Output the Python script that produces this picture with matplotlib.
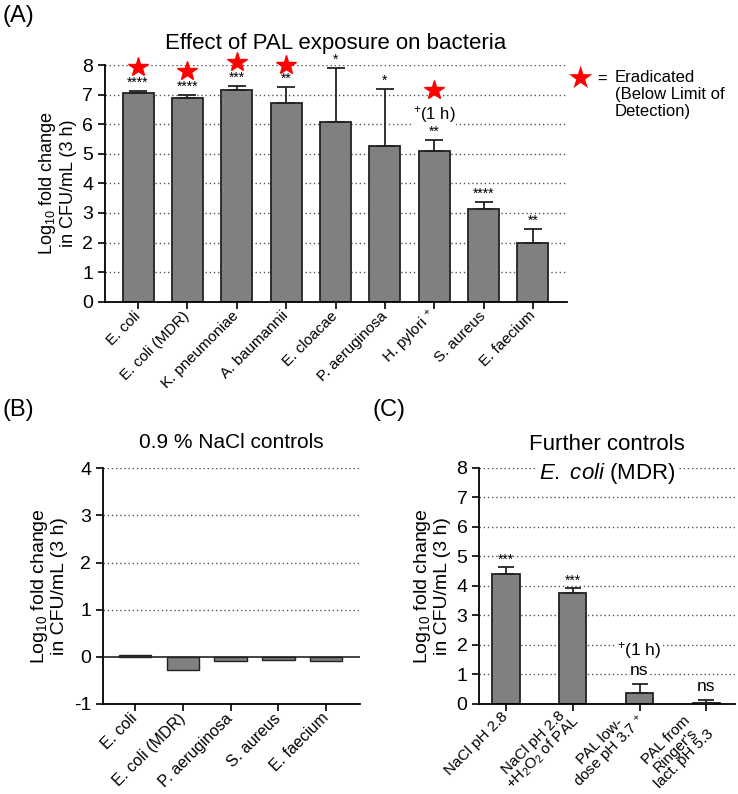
import matplotlib
matplotlib.use("Agg")
import matplotlib.pyplot as plt
import matplotlib.transforms as mtransforms
import numpy as np

plt.rcParams['font.family'] = ['Liberation Sans', 'DejaVu Sans']
plt.rcParams['mathtext.fontset'] = 'custom'
plt.rcParams['mathtext.rm'] = 'Liberation Sans'
plt.rcParams['mathtext.it'] = 'Liberation Sans:italic'
plt.rcParams['axes.unicode_minus'] = False

# ---------------- data ----------------
a_labels = ["E. coli", "E. coli (MDR)", "K. pneumoniae", "A. baumannii", "E. cloacae",
            "P. aeruginosa", "H. pylori $^{+}$", "S. aureus", "E. faecium"]
a_values = [7.04, 6.87, 7.15, 6.70, 6.08, 5.27, 5.10, 3.13, 1.97]
a_errors = [0.09, 0.12, 0.15, 0.56, 1.82, 1.92, 0.36, 0.24, 0.50]
a_signif = ["****", "****", "***", "**", "*", "*", "**", "****", "**"]
a_eradicated = [True, True, True, True, False, False, True, False, False]
a_star_y = [7.94, 7.79, 8.10, 8.00, None, None, 7.15, None, None]

b_labels = ["E. coli", "E. coli (MDR)", "P. aeruginosa", "S. aureus", "E. faecium"]
b_values = [0.04, -0.28, -0.08, -0.06, -0.08]

c_labels = ["NaCl pH 2.8", "NaCl pH 2.8\n+H$_2$O$_2$ of PAL", "PAL low-\ndose pH 3.7 $^{+}$",
            "PAL from\nRinger's\nlact. pH 5.3"]
c_values = [4.41, 3.75, 0.37, 0.04]
c_errors = [0.24, 0.19, 0.32, 0.09]
c_signif = ["***", "***", "ns", "ns"]

ylabel = "Log$_{10}$ fold change\nin CFU/mL (3 h)"

W, H = 738, 794
fig = plt.figure(figsize=(W / 100, H / 100), dpi=100)


def px_axes(l, r, t, b):
    return fig.add_axes([l / W, 1 - b / H, (r - l) / W, (b - t) / H])


BAR = "#808080"
GRID = "#555555"


def style(ax):
    for s in ("top", "right"):
        ax.spines[s].set_visible(False)
    for s in ("left", "bottom"):
        ax.spines[s].set_linewidth(1.3)
    ax.tick_params(axis="both", direction="out", length=5, width=1.2, labelsize=14)
    ax.tick_params(axis="x", pad=3.5)


# ---------------- panel A ----------------
axA = px_axes(105, 567, 65, 301.7)
style(axA)
xa = np.arange(len(a_values))
for g in range(1, 9):
    axA.axhline(g, color=GRID, ls=(0, (1, 2)), lw=1.0, zorder=0)
axA.bar(xa, a_values, width=0.63, color=BAR, edgecolor="#222222", linewidth=1.3, zorder=2)
axA.errorbar(xa, a_values, yerr=[np.zeros(len(a_errors)), a_errors], fmt="none",
             ecolor="#222222", elinewidth=1.3, capsize=6.5, capthick=1.3, zorder=3)
axA.set_xlim(-0.67, 8.69)
axA.set_ylim(0, 8)
axA.set_yticks(range(0, 9))
axA.set_xticks(xa)
axA.set_xticklabels(a_labels, rotation=45, ha="right", va="center", rotation_mode="anchor", fontsize=11)
axA.set_ylabel(ylabel, fontsize=13, linespacing=1.1)
for i, (v, e, s) in enumerate(zip(a_values, a_errors, a_signif)):
    axA.text(i, v + e + 0.04, s, ha="center", va="bottom", fontsize=10, zorder=4)
for i, (er, sy) in enumerate(zip(a_eradicated, a_star_y)):
    if er:
        axA.plot(i, sy, marker="*", color="#ff0000", ms=15, mec="#ff0000", zorder=5, clip_on=False)
axA.text(6, 6.32, "$^{+}$(1 h)", ha="center", va="center", fontsize=12, zorder=4,
         bbox=dict(facecolor="white", edgecolor="none", pad=0.5))
axA.text(0.5, 1.09, "Effect of PAL exposure on bacteria", transform=axA.transAxes,
         ha="center", va="center", fontsize=16)

# legend for star
fig.text(580 / W, 1 - 79 / H, "\u2605", color="#ff0000", fontsize=22, ha="center", va="center",
         family=["DejaVu Sans"])
fig.text(602 / W, 1 - 79 / H, "=", fontsize=12, ha="center", va="center")
fig.text(615 / W, 1 - 70 / H, "Eradicated\n(Below Limit of\nDetection)", fontsize=12,
         ha="left", va="top", linespacing=1.15)

fig.text(3 / W, 1 - 16 / H, "(A)", fontsize=17, ha="left", va="center")

# ---------------- panel B ----------------
axB = px_axes(103, 360, 468.3, 704)
style(axB)
xb = np.arange(len(b_values))
for g in range(1, 5):
    axB.axhline(g, color=GRID, ls=(0, (1, 2)), lw=1.0, zorder=0)
axB.axhline(0, color="#222222", lw=1.2, zorder=3)
axB.bar(xb, b_values, width=0.68, color=BAR, edgecolor="#222222", linewidth=1.0, zorder=2)
axB.set_xlim(-0.67, 4.71)
axB.set_ylim(-1, 4)
axB.set_yticks(range(-1, 5))
axB.set_xticks(xb)
axB.set_xticklabels(b_labels, rotation=45, ha="right", va="center", rotation_mode="anchor", fontsize=11.5)
axB.set_ylabel(ylabel, fontsize=14, linespacing=1.1)
axB.text(0.5, 1.11, "0.9 % NaCl controls", transform=axB.transAxes,
         ha="center", va="center", fontsize=15)
fig.text(3 / W, 1 - 410 / H, "(B)", fontsize=17, ha="left", va="center")

# ---------------- panel C ----------------
axC = px_axes(479.3, 735, 467.7, 704)
style(axC)
xc = np.arange(len(c_values))
for g in range(1, 9):
    axC.axhline(g, color=GRID, ls=(0, (1, 2)), lw=1.0, zorder=0)
axC.bar(xc, c_values, width=0.41, color=BAR, edgecolor="#222222", linewidth=1.3, zorder=2)
axC.errorbar(xc, c_values, yerr=[np.zeros(len(c_errors)), c_errors], fmt="none",
             ecolor="#222222", elinewidth=1.3, capsize=5.5, capthick=1.3, zorder=3)
axC.set_xlim(-0.40, 3.43)
axC.set_ylim(0, 8)
axC.set_yticks(range(0, 9))
axC.set_xticks(xc)
axC.set_xticklabels(c_labels, rotation=45, ha="right", va="center", rotation_mode="anchor",
                    fontsize=11, multialignment="center", linespacing=0.9)
axC.tick_params(axis="x", pad=2.5)
# nudge the three-line label so its first line sits at the tick
for lab in axC.get_xticklabels():
    n = lab.get_text().count("\n")
    if n >= 2:
        off = mtransforms.ScaledTranslation(-3 / 72, -6 / 72, fig.dpi_scale_trans)
        lab.set_transform(lab.get_transform() + off)
axC.set_ylabel(ylabel, fontsize=14, linespacing=1.1)
for i, (v, e, s) in enumerate(zip(c_values, c_errors, c_signif)):
    if s == "ns":
        axC.text(i, v + e + 0.2, s, ha="center", va="bottom", fontsize=12.5, zorder=4,
                 bbox=dict(facecolor="white", edgecolor="none", pad=0.5))
    else:
        axC.text(i, v + e + 0.0, s, ha="center", va="bottom", fontsize=10, zorder=4)
axC.text(2, 1.8, "$^{+}$(1 h)", ha="center", va="center", fontsize=12.5, zorder=4,
         bbox=dict(facecolor="white", edgecolor="none", pad=1))
axC.text(0.5, 1.10, "Further controls", transform=axC.transAxes, ha="center", va="center", fontsize=16)
axC.text(0.5, 0.975, "$\\mathit{E.\\ coli}$ (MDR)", transform=axC.transAxes, ha="center", va="center",
         fontsize=16, zorder=4, bbox=dict(facecolor="white", edgecolor="none", pad=1))
fig.text(373 / W, 1 - 410 / H, "(C)", fontsize=17, ha="left", va="center")

fig.savefig("out.png", dpi=100)
